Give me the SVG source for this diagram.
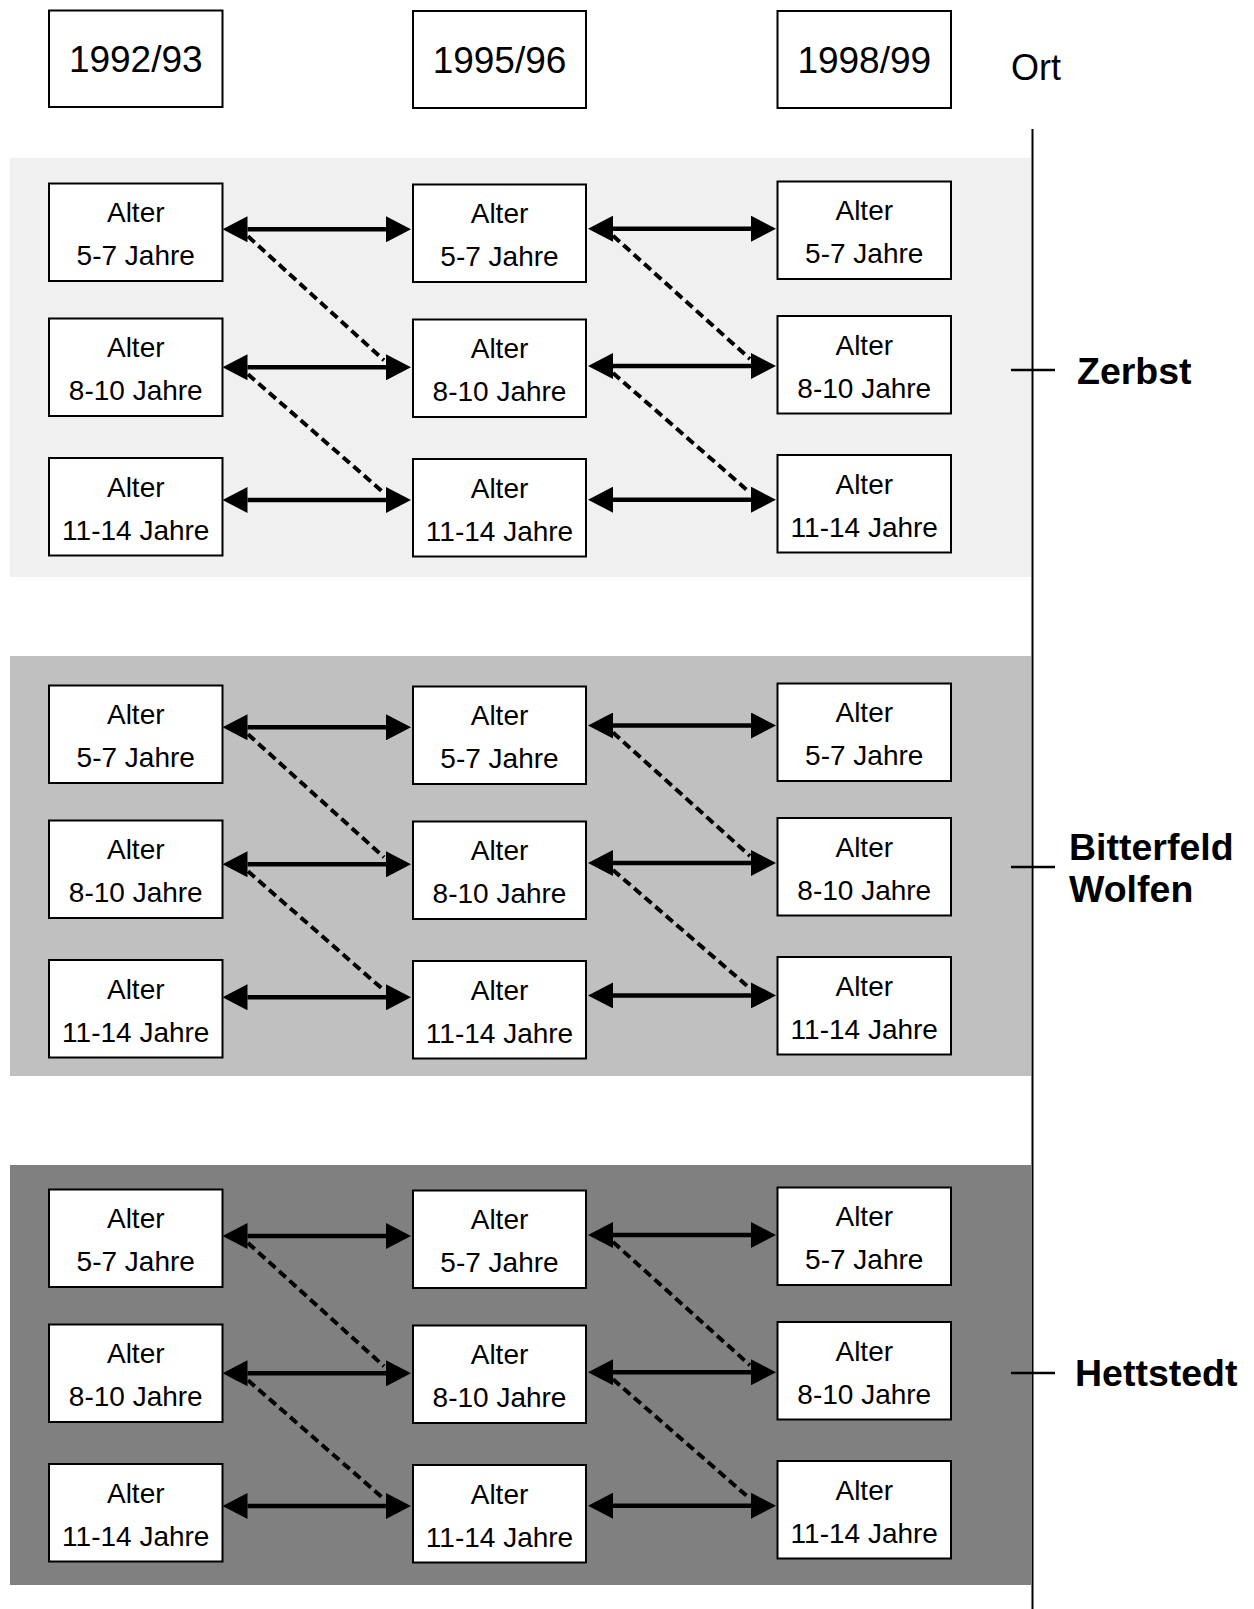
<svg xmlns="http://www.w3.org/2000/svg" width="1254" height="1609" viewBox="0 0 1254 1609">
<style>
.bx{fill:#fff;stroke:#000;stroke-width:2}
.t{font-family:"Liberation Sans",Arial,sans-serif;font-size:28px;text-anchor:middle;fill:#000}
.h{font-family:"Liberation Sans",Arial,sans-serif;font-size:37px;text-anchor:middle;fill:#000}
.o{font-family:"Liberation Sans",Arial,sans-serif;font-size:36px;fill:#000}
.b{font-family:"Liberation Sans",Arial,sans-serif;font-size:37.5px;font-weight:bold;fill:#000}
.ar{stroke:#000;stroke-width:4.5;fill:none;marker-start:url(#ah);marker-end:url(#ah)}
.ds{stroke:#000;stroke-width:4;stroke-dasharray:9 5;fill:none}
.ax{stroke:#000;stroke-width:2;fill:none}
.tk{stroke:#000;stroke-width:2.5;fill:none}
</style>
<defs>
<marker id="ah" viewBox="0 0 25 26" refX="0" refY="13" markerWidth="25" markerHeight="26" markerUnits="userSpaceOnUse" orient="auto-start-reverse"><path d="M0,0 L25,13 L0,26 z" fill="#000"/></marker>
</defs>
<rect width="1254" height="1609" fill="#fff"/>
<g id="bands">
<rect x="10" y="158" width="1021" height="419" fill="#f0f0f0"/>
<rect x="10" y="656" width="1021" height="420" fill="#c0c0c0"/>
<rect x="10" y="1165" width="1021" height="420" fill="#808080"/>
</g>
<g id="headers">
<g id="h1"><rect class="bx" x="49" y="10.5" width="173.5" height="96.5"/><text class="h" x="135.75" y="72">1992/93</text></g>
<g id="h2"><rect class="bx" x="413" y="11" width="173" height="97"/><text class="h" x="499.5" y="72.5">1995/96</text></g>
<g id="h3"><rect class="bx" x="777.5" y="11" width="173.5" height="97"/><text class="h" x="864.25" y="72.5">1998/99</text></g>
<text id="ort" class="o" x="1011" y="80">Ort</text>
</g>
<g id="axis">
<line class="ax" x1="1032.5" y1="129" x2="1032.5" y2="1609"/>
<line class="tk" x1="1011" y1="370" x2="1055" y2="370"/>
<line class="tk" x1="1011" y1="867" x2="1055" y2="867"/>
<line class="tk" x1="1011" y1="1373" x2="1055" y2="1373"/>
<text id="zerbst" class="b" x="1077" y="384">Zerbst</text>
<text id="bitterfeld" class="b" x="1069" y="859.5">Bitterfeld<tspan x="1069" y="901.5">Wolfen</tspan></text>
<text id="hettstedt" class="b" x="1075" y="1386">Hettstedt</text>
</g>
<g id="connectors">
<line class="ds" x1="248" y1="236.3" x2="384" y2="360.3"/>
<line class="ds" x1="248" y1="374.3" x2="384" y2="493"/>
<line class="ds" x1="613" y1="235.7" x2="750" y2="359"/>
<line class="ds" x1="613" y1="373" x2="750" y2="492.7"/>
<line class="ds" x1="248" y1="734.3" x2="384" y2="857.3"/>
<line class="ds" x1="248" y1="871.3" x2="384" y2="990.3"/>
<line class="ds" x1="613" y1="732.5" x2="750" y2="856"/>
<line class="ds" x1="613" y1="870" x2="750" y2="988.4"/>
<line class="ds" x1="248" y1="1243" x2="384" y2="1366.3"/>
<line class="ds" x1="248" y1="1380.3" x2="384" y2="1499"/>
<line class="ds" x1="613" y1="1242" x2="750" y2="1365.3"/>
<line class="ds" x1="613" y1="1379.3" x2="750" y2="1498.7"/>
<line class="ar" x1="247.5" y1="229.3" x2="386" y2="229.3"/>
<line class="ar" x1="247.5" y1="367.3" x2="386" y2="367.3"/>
<line class="ar" x1="247.5" y1="500" x2="386" y2="500"/>
<line class="ar" x1="613" y1="228.7" x2="751" y2="228.7"/>
<line class="ar" x1="613" y1="366" x2="751" y2="366"/>
<line class="ar" x1="613" y1="499.7" x2="751" y2="499.7"/>
<line class="ar" x1="247.5" y1="727.3" x2="386" y2="727.3"/>
<line class="ar" x1="247.5" y1="864.3" x2="386" y2="864.3"/>
<line class="ar" x1="247.5" y1="997.3" x2="386" y2="997.3"/>
<line class="ar" x1="613" y1="725.5" x2="751" y2="725.5"/>
<line class="ar" x1="613" y1="863" x2="751" y2="863"/>
<line class="ar" x1="613" y1="995.4" x2="751" y2="995.4"/>
<line class="ar" x1="247.5" y1="1236" x2="386" y2="1236"/>
<line class="ar" x1="247.5" y1="1373.3" x2="386" y2="1373.3"/>
<line class="ar" x1="247.5" y1="1506" x2="386" y2="1506"/>
<line class="ar" x1="613" y1="1235" x2="751" y2="1235"/>
<line class="ar" x1="613" y1="1372.3" x2="751" y2="1372.3"/>
<line class="ar" x1="613" y1="1505.7" x2="751" y2="1505.7"/>
</g>
<g id="nodes">
<g id="z11"><rect class="bx" x="49" y="183.5" width="173.5" height="97.5"/><text class="t" x="135.75" y="222">Alter</text><text class="t" x="135.75" y="265">5-7 Jahre</text></g>
<g id="z21"><rect class="bx" x="49" y="318.5" width="173.5" height="97.5"/><text class="t" x="135.75" y="357">Alter</text><text class="t" x="135.75" y="400">8-10 Jahre</text></g>
<g id="z31"><rect class="bx" x="49" y="458" width="173.5" height="97.5"/><text class="t" x="135.75" y="496.5">Alter</text><text class="t" x="135.75" y="539.5">11-14 Jahre</text></g>
<g id="z12"><rect class="bx" x="413" y="184.5" width="173" height="97.5"/><text class="t" x="499.5" y="223">Alter</text><text class="t" x="499.5" y="266">5-7 Jahre</text></g>
<g id="z22"><rect class="bx" x="413" y="319.5" width="173" height="97.5"/><text class="t" x="499.5" y="358">Alter</text><text class="t" x="499.5" y="401">8-10 Jahre</text></g>
<g id="z32"><rect class="bx" x="413" y="459" width="173" height="97.5"/><text class="t" x="499.5" y="497.5">Alter</text><text class="t" x="499.5" y="540.5">11-14 Jahre</text></g>
<g id="z13"><rect class="bx" x="777.5" y="181.5" width="173.5" height="97.5"/><text class="t" x="864.25" y="220">Alter</text><text class="t" x="864.25" y="263">5-7 Jahre</text></g>
<g id="z23"><rect class="bx" x="777.5" y="316" width="173.5" height="97.5"/><text class="t" x="864.25" y="354.5">Alter</text><text class="t" x="864.25" y="397.5">8-10 Jahre</text></g>
<g id="z33"><rect class="bx" x="777.5" y="455" width="173.5" height="97.5"/><text class="t" x="864.25" y="493.5">Alter</text><text class="t" x="864.25" y="536.5">11-14 Jahre</text></g>

<g id="b11"><rect class="bx" x="49" y="685.5" width="173.5" height="97.5"/><text class="t" x="135.75" y="724">Alter</text><text class="t" x="135.75" y="767">5-7 Jahre</text></g>
<g id="b21"><rect class="bx" x="49" y="820.5" width="173.5" height="97.5"/><text class="t" x="135.75" y="859">Alter</text><text class="t" x="135.75" y="902">8-10 Jahre</text></g>
<g id="b31"><rect class="bx" x="49" y="960" width="173.5" height="97.5"/><text class="t" x="135.75" y="998.5">Alter</text><text class="t" x="135.75" y="1041.5">11-14 Jahre</text></g>
<g id="b12"><rect class="bx" x="413" y="686.5" width="173" height="97.5"/><text class="t" x="499.5" y="725">Alter</text><text class="t" x="499.5" y="768">5-7 Jahre</text></g>
<g id="b22"><rect class="bx" x="413" y="821.5" width="173" height="97.5"/><text class="t" x="499.5" y="860">Alter</text><text class="t" x="499.5" y="903">8-10 Jahre</text></g>
<g id="b32"><rect class="bx" x="413" y="961" width="173" height="97.5"/><text class="t" x="499.5" y="999.5">Alter</text><text class="t" x="499.5" y="1042.5">11-14 Jahre</text></g>
<g id="b13"><rect class="bx" x="777.5" y="683.5" width="173.5" height="97.5"/><text class="t" x="864.25" y="722">Alter</text><text class="t" x="864.25" y="765">5-7 Jahre</text></g>
<g id="b23"><rect class="bx" x="777.5" y="818" width="173.5" height="97.5"/><text class="t" x="864.25" y="856.5">Alter</text><text class="t" x="864.25" y="899.5">8-10 Jahre</text></g>
<g id="b33"><rect class="bx" x="777.5" y="957" width="173.5" height="97.5"/><text class="t" x="864.25" y="995.5">Alter</text><text class="t" x="864.25" y="1038.5">11-14 Jahre</text></g>

<g id="h11"><rect class="bx" x="49" y="1189.5" width="173.5" height="97.5"/><text class="t" x="135.75" y="1228">Alter</text><text class="t" x="135.75" y="1271">5-7 Jahre</text></g>
<g id="h21"><rect class="bx" x="49" y="1324.5" width="173.5" height="97.5"/><text class="t" x="135.75" y="1363">Alter</text><text class="t" x="135.75" y="1406">8-10 Jahre</text></g>
<g id="h31"><rect class="bx" x="49" y="1464" width="173.5" height="97.5"/><text class="t" x="135.75" y="1502.5">Alter</text><text class="t" x="135.75" y="1545.5">11-14 Jahre</text></g>
<g id="h12"><rect class="bx" x="413" y="1190.5" width="173" height="97.5"/><text class="t" x="499.5" y="1229">Alter</text><text class="t" x="499.5" y="1272">5-7 Jahre</text></g>
<g id="h22"><rect class="bx" x="413" y="1325.5" width="173" height="97.5"/><text class="t" x="499.5" y="1364">Alter</text><text class="t" x="499.5" y="1407">8-10 Jahre</text></g>
<g id="h32"><rect class="bx" x="413" y="1465" width="173" height="97.5"/><text class="t" x="499.5" y="1503.5">Alter</text><text class="t" x="499.5" y="1546.5">11-14 Jahre</text></g>
<g id="h13"><rect class="bx" x="777.5" y="1187.5" width="173.5" height="97.5"/><text class="t" x="864.25" y="1226">Alter</text><text class="t" x="864.25" y="1269">5-7 Jahre</text></g>
<g id="h23"><rect class="bx" x="777.5" y="1322" width="173.5" height="97.5"/><text class="t" x="864.25" y="1360.5">Alter</text><text class="t" x="864.25" y="1403.5">8-10 Jahre</text></g>
<g id="h33"><rect class="bx" x="777.5" y="1461" width="173.5" height="97.5"/><text class="t" x="864.25" y="1499.5">Alter</text><text class="t" x="864.25" y="1542.5">11-14 Jahre</text></g>
</g>
</svg>
